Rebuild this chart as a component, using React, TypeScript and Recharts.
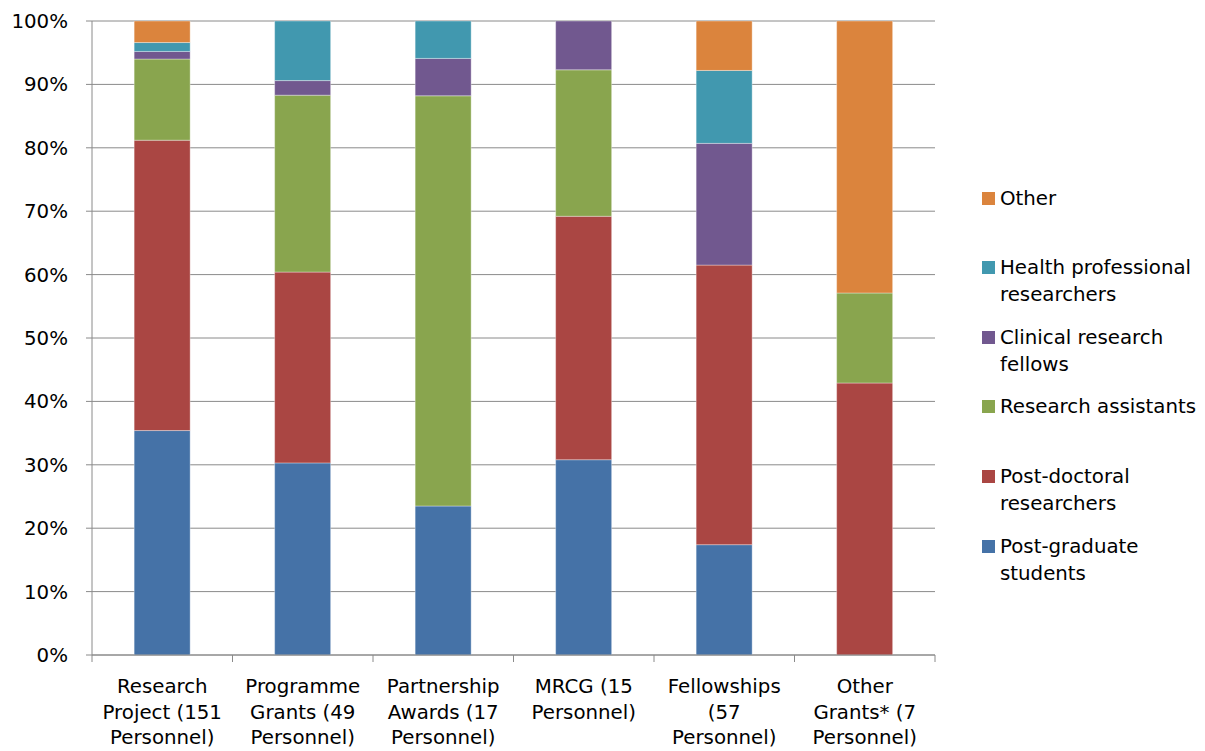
import React from "react";
import { BarChart, Bar, XAxis, YAxis, CartesianGrid } from "recharts";

// Funding schemes (x-axis categories), with their label lines
const categories = [
  "Research Project (151 Personnel)",
  "Programme Grants (49 Personnel)",
  "Partnership Awards (17 Personnel)",
  "MRCG (15 Personnel)",
  "Fellowships (57 Personnel)",
  "Other Grants* (7 Personnel)",
];
const categoryLines = [
  ["Research", "Project (151", "Personnel)"],
  ["Programme", "Grants (49", "Personnel)"],
  ["Partnership", "Awards (17", "Personnel)"],
  ["MRCG (15", "Personnel)"],
  ["Fellowships", "(57", "Personnel)"],
  ["Other", "Grants* (7", "Personnel)"],
];

// Share of personnel per staff type (%), stacked bottom to top
const postGraduate = [35.4, 30.3, 23.5, 30.8, 17.4, 0];
const postDoctoral = [45.8, 30.1, 0, 38.4, 44.1, 42.9];
const researchAssistants = [12.8, 27.9, 64.7, 23.1, 0, 14.2];
const clinicalFellows = [1.2, 2.3, 5.9, 7.7, 19.2, 0];
const healthProfessionals = [1.4, 9.4, 5.9, 0, 11.5, 0];
const other = [3.4, 0, 0, 0, 7.8, 42.9];

const yTicks = [0, 10, 20, 30, 40, 50, 60, 70, 80, 90, 100];

const series = [
  { key: "pg", name: "Post-graduate students", lines: ["Post-graduate", "students"], color: "#4572A7", values: postGraduate },
  { key: "pd", name: "Post-doctoral researchers", lines: ["Post-doctoral", "researchers"], color: "#AA4643", values: postDoctoral },
  { key: "ra", name: "Research assistants", lines: ["Research assistants"], color: "#89A54E", values: researchAssistants },
  { key: "cf", name: "Clinical research fellows", lines: ["Clinical research", "fellows"], color: "#71588F", values: clinicalFellows },
  { key: "hp", name: "Health professional researchers", lines: ["Health professional", "researchers"], color: "#4198AF", values: healthProfessionals },
  { key: "ot", name: "Other", lines: ["Other"], color: "#DB843D", values: other },
];

const data = categories.map((c, i) => {
  const row: Record<string, any> = { category: c, lines: categoryLines[i] };
  series.forEach((s) => {
    row[s.key] = s.values[i];
  });
  return row;
});

const FONT = "'DejaVu Sans', Verdana, sans-serif";
const FONT_SIZE = 19.8;
const AXIS_COLOR = "#8a8a8a";
const WIDTH = 1205;
const HEIGHT = 751;
const MARGIN = { top: 21, right: 270, bottom: 0, left: 0 };
const Y_AXIS_WIDTH = 92;
const X_AXIS_HEIGHT = 96;
const PLOT_WIDTH = WIDTH - MARGIN.left - MARGIN.right - Y_AXIS_WIDTH;
const BAND = PLOT_WIDTH / categories.length;

const CategoryTick = (props: any) => {
  const { x, y, index } = props;
  const lines: string[] = categoryLines[index] || [];
  const left = x - BAND / 2;
  const right = x + BAND / 2;
  return (
    <g>
      <line x1={left} y1={y} x2={left} y2={y + 7} stroke={AXIS_COLOR} strokeWidth={1} />
      {index === categories.length - 1 && (
        <line x1={right} y1={y} x2={right} y2={y + 7} stroke={AXIS_COLOR} strokeWidth={1} />
      )}
      <text x={x} y={y + 38} textAnchor="middle" fontFamily={FONT} fontSize={FONT_SIZE} fill="#000">
        {lines.map((l, i) => (
          <tspan key={i} x={x} dy={i === 0 ? 0 : 25.5}>
            {l}
          </tspan>
        ))}
      </text>
    </g>
  );
};

const LegendPanel = () => {
  const ordered = [...series].reverse();
  return (
    <div style={{ position: "absolute", left: 982, top: 0, fontFamily: FONT, fontSize: FONT_SIZE, color: "#000" }}>
      {ordered.map((s, i) => {
        const center = 198 + i * 69.6;
        return (
          <div key={s.key} style={{ position: "absolute", top: center - 13.5, left: 0, width: 240 }}>
            <div
              style={{
                position: "absolute",
                left: 0,
                top: 7,
                width: 13,
                height: 13,
                background: s.color,
              }}
            />
            <div style={{ position: "absolute", left: 18, top: 0, lineHeight: "27px", whiteSpace: "nowrap" }}>
              {s.lines.map((l, j) => (
                <div key={j}>{l}</div>
              ))}
            </div>
          </div>
        );
      })}
    </div>
  );
};

export default function App() {
  return (
    <div style={{ position: "absolute", left: 0, top: 0, width: WIDTH, height: HEIGHT, background: "#fff" }}>
      <BarChart width={WIDTH} height={HEIGHT} data={data} margin={MARGIN} barCategoryGap="30%">
        <CartesianGrid vertical={false} stroke={AXIS_COLOR} strokeWidth={1} />
        <XAxis
          dataKey="category"
          height={X_AXIS_HEIGHT}
          interval={0}
          tickLine={false}
          tickSize={0}
          tickMargin={0}
          axisLine={{ stroke: AXIS_COLOR, strokeWidth: 1 }}
          tick={<CategoryTick />}
        />
        <YAxis
          width={Y_AXIS_WIDTH}
          domain={[0, 100]}
          ticks={yTicks}
          interval={0}
          allowDataOverflow
          tickFormatter={(v: number) => `${v}%`}
          tickSize={6}
          tickMargin={18}
          axisLine={{ stroke: AXIS_COLOR, strokeWidth: 1 }}
          tickLine={{ stroke: AXIS_COLOR, strokeWidth: 1 }}
          tick={{ fontFamily: FONT, fontSize: FONT_SIZE, fill: "#000" }}
        />
        {series.map((s) => (
          <Bar
            key={s.key}
            dataKey={s.key}
            name={s.name}
            stackId="a"
            fill={s.color}
            stroke="rgba(255,255,255,0.35)"
            strokeWidth={1}
            isAnimationActive={false}
          />
        ))}
      </BarChart>
      <LegendPanel />
    </div>
  );
}
